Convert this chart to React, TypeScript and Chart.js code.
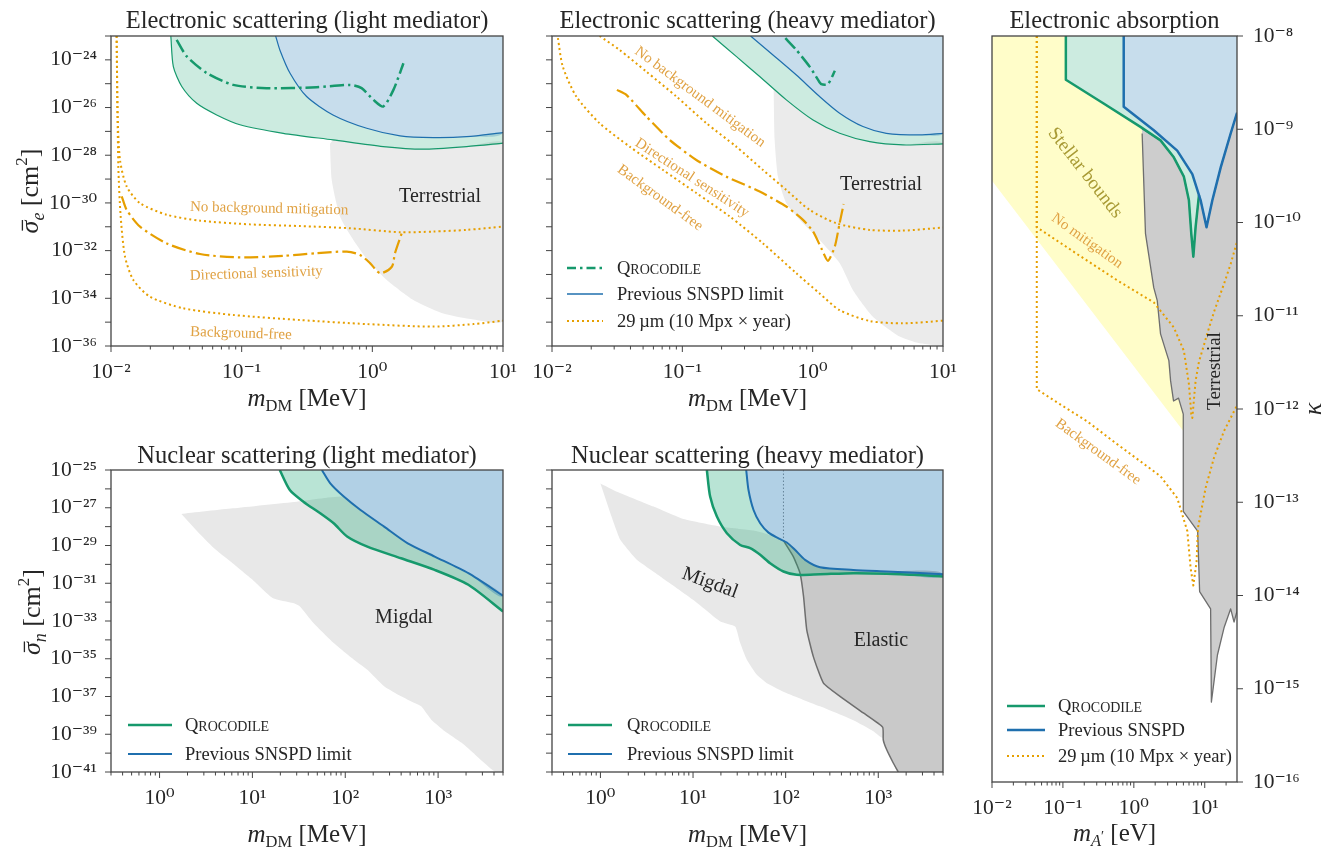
import React, { useEffect, useRef } from 'react';
import { Chart, registerables } from 'chart.js';

Chart.register(...registerables);

type Pt = [number, number];

// ---------------- tick values & labels ----------------
const eXTickValues = [0.01, 0.1, 1, 10];
const eXTickLabels = ['10⁻²', '10⁻¹', '10⁰', '10¹'];
const eYTickValues = [1e-36, 1e-34, 1e-32, 1e-30, 1e-28, 1e-26, 1e-24];
const eYTickLabels = ['10⁻³⁶', '10⁻³⁴', '10⁻³²', '10⁻³⁰', '10⁻²⁸', '10⁻²⁶', '10⁻²⁴'];
const eYMinorValues = [1e-35, 1e-33, 1e-31, 1e-29, 1e-27, 1e-25, 1e-23];
const nXTickValues = [1, 10, 100, 1000];
const nXTickLabels = ['10⁰', '10¹', '10²', '10³'];
const nYTickValues = [1e-41, 1e-39, 1e-37, 1e-35, 1e-33, 1e-31, 1e-29, 1e-27, 1e-25];
const nYTickLabels = ['10⁻⁴¹', '10⁻³⁹', '10⁻³⁷', '10⁻³⁵', '10⁻³³', '10⁻³¹', '10⁻²⁹', '10⁻²⁷', '10⁻²⁵'];
const nYMinorValues = [1e-40, 1e-38, 1e-36, 1e-34, 1e-32, 1e-30, 1e-28, 1e-26];
const aXTickValues = [0.01, 0.1, 1, 10];
const aXTickLabels = ['10⁻²', '10⁻¹', '10⁰', '10¹'];
const aYTickValues = [1e-16, 1e-15, 1e-14, 1e-13, 1e-12, 1e-11, 1e-10, 1e-9, 1e-8];
const aYTickLabels = ['10⁻¹⁶', '10⁻¹⁵', '10⁻¹⁴', '10⁻¹³', '10⁻¹²', '10⁻¹¹', '10⁻¹⁰', '10⁻⁹', '10⁻⁸'];

// ---------------- Electronic scattering (light mediator) ----------------
const elLightQroc: Pt[] = [[0.0287, 1e-23], [0.030, 5.2e-25], [0.0348, 7.6e-26], [0.0453, 1.5e-26], [0.0644, 4.9e-27], [0.097, 1.9e-27], [0.208, 8.3e-28], [0.5, 4.4e-28], [1.21, 2.3e-28], [2.45, 1.8e-28], [5.27, 2.3e-28], [10, 3.2e-28]];
const elLightSnspd: Pt[] = [[0.182, 1e-23], [0.196, 2.6e-24], [0.234, 2.8e-25], [0.314, 2.9e-26], [0.5, 4.9e-27], [0.906, 1.35e-27], [1.63, 6.5e-28], [2.93, 5.5e-28], [5.27, 6.0e-28], [10, 8.9e-28]];
const elLightQrocProj: Pt[] = [[0.0318, 6.9e-24], [0.038, 1.4e-24], [0.054, 2.8e-25], [0.0863, 8.9e-26], [0.155, 6.5e-26], [0.375, 7.1e-26], [0.674, 8.9e-26], [0.828, 6.5e-26], [1.02, 2.1e-26], [1.21, 1.1e-26], [1.45, 5.5e-26], [1.73, 7.2e-25]];
const elLightNoBkg: Pt[] = [[0.01104, 1e-23], [0.01125, 4.2e-27], [0.01172, 6.3e-29], [0.01318, 4.9e-30], [0.01667, 9.8e-31], [0.0267, 3.2e-31], [0.048, 1.8e-31], [0.1159, 1.26e-31], [0.279, 1.07e-31], [0.674, 8.7e-32], [1.63, 5.9e-32], [2.93, 6.3e-32], [5.27, 7.4e-32], [10, 1.02e-31]];
const elLightBkgFree: Pt[] = [[0.01104, 1e-23], [0.01138, 3.3e-29], [0.01186, 2.7e-31], [0.0128, 5.6e-33], [0.01482, 5.9e-34], [0.01987, 1.17e-34], [0.0358, 3.8e-35], [0.0863, 2.0e-35], [0.279, 1.23e-35], [0.906, 8.3e-36], [2.93, 6.5e-36], [5.93, 8.3e-36], [10, 1.15e-35]];
const elLightDirectional: Pt[] = [[0.01208, 1.9e-30], [0.01318, 5.1e-31], [0.01667, 1.02e-31], [0.0267, 2.0e-32], [0.048, 7.2e-33], [0.097, 5.2e-33], [0.208, 6.0e-33], [0.375, 7.8e-33], [0.637, 9.1e-33], [0.805, 6.6e-33], [0.96, 3.0e-33], [1.146, 1.12e-33], [1.41, 2.1e-33], [1.49, 7.8e-33], [1.68, 5.4e-32]];
const elLightTerrestrial: Pt[] = [[0.474, 3.0e-28], [0.489, 9.1e-30], [0.566, 2.7e-31], [0.716, 2.8e-32], [0.96, 3.0e-33], [1.29, 5.9e-34], [2.06, 8.5e-35], [3.49, 2.3e-35], [5.93, 1.3e-35], [10, 1.15e-35], [10, 3.2e-28], [5.27, 2.3e-28], [2.45, 1.8e-28], [1.21, 2.3e-28], [0.5, 4.4e-28]];

// ---------------- Electronic scattering (heavy mediator) ----------------
const elHeavyQroc: Pt[] = [[0.17, 1e-23], [0.259, 1.4e-24], [0.392, 2.0e-25], [0.628, 2.1e-26], [1.007, 3.0e-27], [1.61, 8.3e-28], [2.74, 3.7e-28], [4.93, 2.7e-28], [10, 3.0e-28]];
const elHeavySnspd: Pt[] = [[0.334, 1e-23], [0.496, 1.6e-24], [0.75, 2.3e-25], [1.13, 2.9e-26], [1.61, 5.8e-27], [2.43, 1.6e-27], [3.67, 8.3e-28], [6.62, 7.1e-28], [10, 8.3e-28]];
const elHeavyQrocProj: Pt[] = [[0.617, 8.1e-24], [0.75, 2.6e-24], [0.948, 5.2e-25], [1.10, 1.45e-25], [1.165, 9.5e-26], [1.31, 9.5e-26], [1.48, 3.5e-25]];
const elHeavyNoBkg: Pt[] = [[0.0232, 1e-23], [0.033, 2.6e-24], [0.053, 3.2e-25], [0.09, 2.9e-26], [0.153, 2.2e-27], [0.259, 2.3e-28], [0.416, 2.4e-29], [0.628, 3.5e-30], [0.948, 5.1e-31], [1.52, 1.4e-31], [2.74, 7.4e-32], [4.93, 6.9e-32], [10, 9.3e-32]];
const elHeavyBkgFree: Pt[] = [[0.0111, 8.1e-24], [0.0121, 5.2e-25], [0.01537, 2.9e-26], [0.0232, 2.2e-27], [0.0394, 2.3e-28], [0.0711, 2.4e-29], [0.128, 2.6e-30], [0.231, 2.7e-31], [0.416, 2.0e-32], [0.75, 1.12e-33], [1.13, 1.6e-34], [1.61, 3.2e-35], [2.74, 1.12e-35], [4.93, 8.9e-36], [10, 1.15e-35]];
const elHeavyDirectional: Pt[] = [[0.0315, 5.5e-26], [0.0372, 3.4e-26], [0.053, 4.2e-27], [0.08, 4.4e-28], [0.128, 6.3e-29], [0.218, 1.26e-29], [0.392, 3.0e-30], [0.628, 7.1e-31], [0.843, 1.95e-31], [1.007, 6.3e-32], [1.165, 1.26e-32], [1.31, 3.7e-33], [1.48, 1.5e-32], [1.61, 1.4e-31], [1.73, 9.1e-31]];
const elHeavyTerrestrial: Pt[] = [[0.502, 5.9e-26], [0.511, 4.4e-28], [0.542, 1.26e-29], [0.628, 9.8e-31], [0.843, 1.4e-31], [1.13, 2.8e-32], [1.61, 3.0e-33], [2.04, 2.2e-34], [2.9, 1.7e-35], [4.65, 2.5e-36], [6.62, 1.3e-36], [10, 1e-36], [10, 3.0e-28], [4.93, 2.7e-28], [2.74, 3.7e-28], [1.61, 8.3e-28], [1.007, 3.0e-27], [0.628, 2.1e-26]];

// ---------------- Electronic absorption ----------------
const absQroc: Pt[] = [[0.11, 1e-8], [0.11, 3.4e-9], [0.375, 1.89e-9], [1.24, 1.06e-9], [2.38, 7.6e-10], [3.66, 5.0e-10], [5.08, 3.1e-10], [5.98, 1.73e-10], [6.46, 7.6e-11], [6.9, 4.3e-11], [7.43, 8.9e-11], [8.3, 1.98e-10]];
const absSnspd: Pt[] = [[0.72, 1e-8], [0.72, 1.74e-9], [1.91, 9.75e-10], [4.09, 5.9e-10], [6.68, 3.3e-10], [8.75, 1.73e-10], [10.6, 8.9e-11], [12.8, 1.73e-10], [16.8, 3.9e-10], [23.2, 9.0e-10], [28.5, 1.5e-9]];
const absNoMit: Pt[] = [[0.0428, 1e-8], [0.0428, 8.9e-11], [0.158, 4.6e-11], [0.581, 2.4e-11], [1.91, 1.39e-11], [3.66, 7.5e-12], [5.08, 4.2e-12], [5.98, 1.85e-12], [6.46, 8.8e-13], [6.68, 8.0e-13], [7.43, 2.0e-12], [8.28, 3.2e-12], [10.9, 6.5e-12], [13.5, 1.1e-11], [18.7, 2.2e-11], [23.2, 3.6e-11], [28.5, 6.2e-11]];
const absBkgFree: Pt[] = [[0.0428, 1e-8], [0.0428, 1.63e-12], [0.0916, 1.12e-12], [0.218, 7.4e-13], [0.581, 4.2e-13], [2.38, 1.9e-13], [4.09, 1.11e-13], [4.82, 7.4e-14], [5.68, 4.9e-14], [6.32, 1.97e-14], [6.9, 1.28e-14], [7.67, 2.3e-14], [8.02, 5.3e-14], [10.3, 1.43e-13], [13.5, 3.0e-13], [18.7, 5.8e-13], [27.4, 1.03e-12], [28.5, 1.08e-12]];
const absTerrestrial: Pt[] = [[1.3, 1.02e-9], [2.38, 7.6e-10], [3.66, 5.0e-10], [5.08, 3.1e-10], [5.98, 1.73e-10], [6.46, 7.6e-11], [6.9, 4.3e-11], [7.43, 8.9e-11], [8.3, 1.98e-10], [8.75, 1.73e-10], [10.6, 8.9e-11], [12.8, 1.73e-10], [16.8, 3.9e-10], [23.2, 9.0e-10], [28.5, 1.5e-9], [28.5, 6.8e-15], [25.9, 5.2e-15], [23.2, 7.2e-15], [18.7, 4.5e-15], [15.1, 2.3e-15], [12.4, 7.2e-16], [12.1, 7.2e-15], [8.47, 1.1e-14], [7.94, 4.9e-14], [4.98, 8.0e-14], [4.98, 8.8e-13], [4.27, 1.31e-12], [3.63, 1.22e-12], [3.3, 2.0e-12], [3.12, 3.3e-12], [2.38, 6.4e-12], [2.14, 1.45e-11], [1.91, 2.0e-11], [1.46, 7.6e-11], [1.31, 9.0e-10]];
const absStellar: Pt[] = [[0.01, 1e-8], [0.11, 1e-8], [0.11, 3.4e-9], [0.375, 1.89e-9], [1.24, 1.06e-9], [1.3, 1.02e-9], [1.31, 9.0e-10], [1.46, 7.6e-11], [1.91, 2.0e-11], [2.14, 1.45e-11], [2.38, 6.4e-12], [3.12, 3.3e-12], [3.3, 2.0e-12], [3.63, 1.22e-12], [4.27, 1.31e-12], [4.98, 8.8e-13], [4.98, 5.8e-13], [0.01, 2.8e-10]];

// ---------------- Nuclear scattering (light mediator) ----------------
const nuLightQroc: Pt[] = [[19.7, 1e-25], [25.3, 8.7e-27], [35.4, 2.1e-27], [53.7, 5.1e-28], [75, 1.5e-28], [104.7, 3.0e-29], [173, 8.7e-30], [399, 2.1e-30], [918, 5.1e-31], [2118, 8.3e-32], [5000, 3.2e-33]];
const nuLightSnspd: Pt[] = [[56, 1e-25], [69, 1.95e-26], [96.4, 3.9e-27], [146, 7.6e-28], [262, 1e-28], [471, 1.3e-29], [918, 2.6e-30], [2118, 3.4e-31], [5000, 2.2e-32]];
const nuLightMigdal: Pt[] = [[1.72, 4.7e-28], [6.12, 9.3e-28], [29.9, 2.1e-27], [96.4, 3.9e-27], [146, 7.6e-28], [262, 1e-28], [471, 1.3e-29], [918, 2.6e-30], [2118, 3.4e-31], [5000, 2.2e-32], [5000, 6.3e-42], [3802, 1.35e-41], [2506, 8.3e-41], [1795, 3.5e-40], [1181, 1.45e-39], [845, 5.9e-39], [658, 3.0e-38], [557, 4.5e-38], [399, 1.02e-37], [262, 3.5e-37], [173, 2.6e-36], [124, 8.9e-36], [75, 6.8e-35], [45.5, 7.8e-34], [32.5, 5.9e-33], [27.5, 8.9e-33], [16.7, 1.6e-32], [10.1, 1.5e-31], [6.12, 1.15e-30], [4.04, 5.9e-30], [2.66, 4.5e-29]];

// ---------------- Nuclear scattering (heavy mediator) ----------------
const nuHeavyQroc: Pt[] = [[14.1, 1e-25], [15.3, 3.9e-27], [18.1, 3.4e-28], [23.2, 4.5e-29], [32.3, 1.07e-29], [41.4, 7.2e-30], [53.1, 3.2e-30], [68, 1.15e-30], [94.7, 4.2e-31], [132, 2.8e-31], [235, 3.0e-31], [538, 3.4e-31], [1231, 3.2e-31], [2817, 2.7e-31], [5000, 2.3e-31]];
const nuHeavySnspd: Pt[] = [[37.5, 1e-25], [39.7, 8.7e-27], [45, 7.6e-28], [53.1, 1.5e-28], [65.3, 4.8e-29], [83.6, 2.4e-29], [103, 1.45e-29], [126, 5.9e-30], [162, 1.74e-30], [235, 7.1e-31], [538, 5.1e-31], [1231, 4.2e-31], [5000, 3.0e-31]];
const nuHeavyMigdal: Pt[] = [[1.0, 1.95e-26], [1.51, 7.1e-27], [3.76, 1.15e-27], [7.91, 2.5e-28], [19.7, 1e-28], [45, 6.2e-29], [94.7, 1.8e-29], [538, 1e-34], [3000, 1e-38], [1132, 6.3e-40], [884, 1.45e-39], [538, 5.5e-39], [235, 3.0e-38], [103, 1.5e-37], [62.6, 5.1e-37], [48.9, 1.4e-36], [38.1, 8.9e-36], [32.3, 6.8e-35], [28.5, 5.1e-34], [19.7, 9.5e-34], [10.1, 1.3e-32], [4.43, 2.3e-31], [2.48, 1.74e-30], [1.64, 2.0e-29], [1.28, 5.1e-28]];
const nuHeavyElasticEdge: Pt[] = [[94.7, 1.8e-29], [121, 2.6e-30], [143, 3.4e-31], [156, 2.0e-32], [169, 3.4e-34], [199, 1.3e-35], [256, 5.1e-37], [386, 1.02e-37], [690, 1.35e-38], [1114, 2.4e-39], [1132, 5.1e-40], [1231, 1.55e-40], [1452, 3.0e-41], [1644, 1e-41]];
const nuHeavyDivider: Pt[] = [[94.7, 1e-25], [94.7, 1.8e-29]];

// ---------------- styles ----------------
const FONT = '"Liberation Serif", "DejaVu Serif", serif';
const TEXT = '#262626';
const AXIS = '#444444';
const ORANGE = '#E69F00';
const ORANGE_TXT = '#E0A244';
const OLIVE = '#a89a34';
const GREEN = '#16996c';
const BLUE = '#1f6fae';
const GREEN_FILL_T = 'rgba(23,166,115,0.22)';
const BLUE_FILL_T = 'rgba(31,119,180,0.25)';
const GREEN_FILL_B = 'rgba(23,166,115,0.30)';
const BLUE_FILL_B = 'rgba(31,119,180,0.35)';
const GRAY_TERR = '#ebebeb';
const GRAY_TERR_ABS = '#cdcdcd';
const GRAY_MIGDAL = '#e8e8e8';
const GRAY_ELASTIC = '#c9c9c9';
const EDGE = '#6e6e6e';
const YELLOW = '#fffdc9';
const DOT = [2, 3];
const DASHDOT = [14, 4, 2.5, 4];

type Seg = { t: string; size: number; italic?: boolean; dy?: number; bar?: boolean };
type TextItem = { x: number; y: number; segs: Seg[]; align?: 'left' | 'center' | 'right'; rot?: number; color?: string; middle?: boolean };
type Layer = { pts: Pt[]; fill?: string; line?: string; width?: number; dash?: number[]; tension?: number };
type LegendItem = { y: number; color: string; width: number; dash: number[]; segs: Seg[] };
type Spec = {
  xRange: [number, number]; yRange: [number, number]; yPos: 'left' | 'right';
  pad: { left: number; top: number; right: number }; yWidth: number; xHeight: number; yPad: number;
  xTicks: number[]; xLabels: string[] | null; xMinor: number[];
  yTicks: number[]; yLabels: string[] | null; yMinor: number[];
  layers: Layer[]; texts: TextItem[];
  legend: { x0: number; x1: number; tx: number; items: LegendItem[] } | null;
};

const rev = (a: Pt[]) => [...a].reverse();
function logMinors(lo: number, hi: number): number[] {
  const out: number[] = [];
  for (let e = Math.floor(Math.log10(lo)); e <= Math.ceil(Math.log10(hi)); e++) {
    for (let k = 2; k <= 9; k++) {
      const v = k * Math.pow(10, e);
      if (v >= lo * 0.999 && v <= hi * 1.001) out.push(v);
    }
  }
  return out;
}

const xTitleMeV: Seg[] = [{ t: 'm', size: 25, italic: true }, { t: 'DM', size: 16.5, dy: 5 }, { t: ' [MeV]', size: 25 }];
const yTitleE: Seg[] = [{ t: 'σ', size: 26, italic: true, bar: true }, { t: 'e', size: 18, italic: true, dy: 6 }, { t: ' [cm', size: 26 }, { t: '2', size: 17, dy: -11 }, { t: ']', size: 26 }];
const yTitleN: Seg[] = [{ t: 'σ', size: 26, italic: true, bar: true }, { t: 'n', size: 18, italic: true, dy: 6 }, { t: ' [cm', size: 26 }, { t: '2', size: 17, dy: -11 }, { t: ']', size: 26 }];
const qroc: Seg[] = [{ t: 'Q', size: 18.5 }, { t: 'ROCODILE', size: 14 }];
const LEG = 18.5;
const TITLE = 24.5;

const spec1: Spec = {
  xRange: [0.01, 10], yRange: [1e-36, 1e-23], yPos: 'left', pad: { left: 0, top: 36, right: 17 }, yWidth: 111, xHeight: 74, yPad: 14,
  xTicks: eXTickValues, xLabels: eXTickLabels, xMinor: logMinors(0.01, 10),
  yTicks: eYTickValues, yLabels: eYTickLabels, yMinor: eYMinorValues,
  layers: [
    { pts: elLightTerrestrial, fill: GRAY_TERR, tension: 0.2 },
    { pts: [...elLightQroc, ...rev(elLightSnspd)], fill: GREEN_FILL_T, tension: 0.25 },
    { pts: [...elLightSnspd, [10, 1e-23]], fill: BLUE_FILL_T, tension: 0.25 },
    { pts: elLightQroc, line: GREEN, width: 1.2, tension: 0.25 },
    { pts: elLightSnspd, line: BLUE, width: 1.2, tension: 0.25 },
    { pts: elLightNoBkg, line: ORANGE, width: 2, dash: DOT, tension: 0.25 },
    { pts: elLightBkgFree, line: ORANGE, width: 2, dash: DOT, tension: 0.25 },
    { pts: elLightDirectional, line: ORANGE, width: 2.2, dash: DASHDOT, tension: 0.25 },
    { pts: elLightQrocProj, line: GREEN, width: 2.5, dash: DASHDOT, tension: 0.25 },
  ],
  texts: [
    { x: 307, y: 28, align: 'center', segs: [{ t: 'Electronic scattering (light mediator)', size: TITLE }] },
    { x: 307, y: 406, align: 'center', segs: xTitleMeV },
    { x: 38, y: 191, rot: -90, align: 'center', segs: yTitleE },
    { x: 440, y: 202, align: 'center', segs: [{ t: 'Terrestrial', size: 20 }] },
    { x: 190, y: 211, rot: 1.2, color: ORANGE_TXT, segs: [{ t: 'No background mitigation', size: 15 }] },
    { x: 190, y: 280, rot: -2, color: ORANGE_TXT, segs: [{ t: 'Directional sensitivity', size: 15 }] },
    { x: 190, y: 336, rot: 1.8, color: ORANGE_TXT, segs: [{ t: 'Background-free', size: 15 }] },
  ],
  legend: null,
};

const spec2: Spec = {
  xRange: [0.01, 10], yRange: [1e-36, 1e-23], yPos: 'left', pad: { left: 0, top: 36, right: 17 }, yWidth: 32, xHeight: 74, yPad: 14,
  xTicks: eXTickValues, xLabels: eXTickLabels, xMinor: logMinors(0.01, 10),
  yTicks: eYTickValues, yLabels: null, yMinor: eYMinorValues,
  layers: [
    { pts: elHeavyTerrestrial, fill: GRAY_TERR, tension: 0.2 },
    { pts: [...elHeavyQroc, ...rev(elHeavySnspd)], fill: GREEN_FILL_T, tension: 0.25 },
    { pts: [...elHeavySnspd, [10, 1e-23]], fill: BLUE_FILL_T, tension: 0.25 },
    { pts: elHeavyQroc, line: GREEN, width: 1.2, tension: 0.25 },
    { pts: elHeavySnspd, line: BLUE, width: 1.2, tension: 0.25 },
    { pts: elHeavyNoBkg, line: ORANGE, width: 2, dash: DOT, tension: 0.25 },
    { pts: elHeavyBkgFree, line: ORANGE, width: 2, dash: DOT, tension: 0.25 },
    { pts: elHeavyDirectional, line: ORANGE, width: 2.2, dash: DASHDOT, tension: 0.2 },
    { pts: elHeavyQrocProj, line: GREEN, width: 2.5, dash: DASHDOT, tension: 0.2 },
  ],
  texts: [
    { x: 227.5, y: 28, align: 'center', segs: [{ t: 'Electronic scattering (heavy mediator)', size: TITLE }] },
    { x: 227.5, y: 406, align: 'center', segs: xTitleMeV },
    { x: 361, y: 190, align: 'center', segs: [{ t: 'Terrestrial', size: 20 }] },
    { x: 180, y: 97, rot: 36.6, align: 'center', middle: true, color: ORANGE_TXT, segs: [{ t: 'No background mitigation', size: 15 }] },
    { x: 172, y: 178, rot: 33, align: 'center', middle: true, color: ORANGE_TXT, segs: [{ t: 'Directional sensitivity', size: 15 }] },
    { x: 140, y: 198, rot: 36, align: 'center', middle: true, color: ORANGE_TXT, segs: [{ t: 'Background-free', size: 15 }] },
  ],
  legend: {
    x0: 47, x1: 83, tx: 97, items: [
      { y: 268, color: GREEN, width: 2.5, dash: [9, 4, 2.5, 4], segs: qroc },
      { y: 294, color: BLUE, width: 1.5, dash: [], segs: [{ t: 'Previous SNSPD limit', size: LEG }] },
      { y: 321, color: ORANGE, width: 2, dash: DOT, segs: [{ t: '29\u2009µm (10 Mpx × year)', size: LEG }] },
    ],
  },
};

const spec3: Spec = {
  xRange: [0.01, 28.5], yRange: [1e-16, 1e-8], yPos: 'right', pad: { left: 32, top: 36, right: 0 }, yWidth: 87, xHeight: 65, yPad: 16,
  xTicks: aXTickValues, xLabels: aXTickLabels, xMinor: logMinors(0.01, 28.5),
  yTicks: aYTickValues, yLabels: aYTickLabels, yMinor: [],
  layers: [
    { pts: absStellar, fill: YELLOW },
    { pts: absTerrestrial, fill: GRAY_TERR_ABS, line: EDGE, width: 1.3 },
    { pts: [...absQroc, ...rev(absSnspd.filter((p) => p[0] < 8.3))], fill: GREEN_FILL_T },
    { pts: [...absSnspd, [28.5, 1e-8]], fill: BLUE_FILL_T },
    { pts: absNoMit, line: ORANGE, width: 2, dash: DOT },
    { pts: absBkgFree, line: ORANGE, width: 2, dash: DOT },
    { pts: absQroc, line: GREEN, width: 2.5 },
    { pts: absSnspd, line: BLUE, width: 2.5 },
  ],
  texts: [
    { x: 154.5, y: 28, align: 'center', segs: [{ t: 'Electronic absorption', size: TITLE }] },
    { x: 154.5, y: 841, align: 'center', segs: [{ t: 'm', size: 25, italic: true }, { t: 'A', size: 16.5, italic: true, dy: 5 }, { t: '′', size: 14, dy: 0 }, { t: ' [eV]', size: 25 }] },
    { x: 361, y: 409, rot: -90, align: 'center', segs: [{ t: 'κ', size: 26, italic: true }] },
    { x: 125, y: 173, rot: 52, align: 'center', middle: true, color: OLIVE, segs: [{ t: 'Stellar bounds', size: 19 }] },
    { x: 127, y: 241, rot: 35.6, align: 'center', middle: true, color: ORANGE_TXT, segs: [{ t: 'No mitigation', size: 15 }] },
    { x: 138, y: 452, rot: 36, align: 'center', middle: true, color: ORANGE_TXT, segs: [{ t: 'Background-free', size: 15 }] },
    { x: 255, y: 371, rot: -90, align: 'center', middle: true, segs: [{ t: 'Terrestrial', size: 19 }] },
  ],
  legend: {
    x0: 47, x1: 85, tx: 98, items: [
      { y: 706, color: GREEN, width: 2.5, dash: [], segs: qroc },
      { y: 730, color: BLUE, width: 2.5, dash: [], segs: [{ t: 'Previous SNSPD', size: LEG }] },
      { y: 756, color: ORANGE, width: 2, dash: DOT, segs: [{ t: '29\u2009µm (10 Mpx × year)', size: LEG }] },
    ],
  },
};

const spec4: Spec = {
  xRange: [0.3, 5000], yRange: [1e-41, 1e-25], yPos: 'left', pad: { left: 0, top: 50, right: 17 }, yWidth: 111, xHeight: 75, yPad: 14,
  xTicks: nXTickValues, xLabels: nXTickLabels, xMinor: logMinors(0.3, 5000),
  yTicks: nYTickValues, yLabels: nYTickLabels, yMinor: nYMinorValues,
  layers: [
    { pts: nuLightMigdal, fill: GRAY_MIGDAL, tension: 0.15 },
    { pts: [...nuLightQroc, ...rev(nuLightSnspd)], fill: GREEN_FILL_B, tension: 0.25 },
    { pts: [...nuLightSnspd, [5000, 1e-25]], fill: BLUE_FILL_B, tension: 0.25 },
    { pts: nuLightQroc, line: GREEN, width: 2.5, tension: 0.25 },
    { pts: nuLightSnspd, line: BLUE, width: 2, tension: 0.25 },
  ],
  texts: [
    { x: 307, y: 43, align: 'center', segs: [{ t: 'Nuclear scattering (light mediator)', size: TITLE }] },
    { x: 307, y: 422, align: 'center', segs: xTitleMeV },
    { x: 40, y: 192, rot: -90, align: 'center', segs: yTitleN },
    { x: 404, y: 203, align: 'center', segs: [{ t: 'Migdal', size: 20 }] },
  ],
  legend: {
    x0: 128, x1: 172, tx: 185, items: [
      { y: 305, color: GREEN, width: 2.5, dash: [], segs: qroc },
      { y: 334, color: BLUE, width: 2, dash: [], segs: [{ t: 'Previous SNSPD limit', size: LEG }] },
    ],
  },
};

const spec5: Spec = {
  xRange: [0.3, 5000], yRange: [1e-41, 1e-25], yPos: 'left', pad: { left: 0, top: 50, right: 17 }, yWidth: 32, xHeight: 75, yPad: 14,
  xTicks: nXTickValues, xLabels: nXTickLabels, xMinor: logMinors(0.3, 5000),
  yTicks: nYTickValues, yLabels: null, yMinor: nYMinorValues,
  layers: [
    { pts: nuHeavyMigdal, fill: GRAY_MIGDAL, tension: 0.15 },
    { pts: [nuHeavyElasticEdge[0], ...nuHeavySnspd.filter((p) => p[0] > 94.7), [5000, 1e-41], ...rev(nuHeavyElasticEdge)], fill: GRAY_ELASTIC, tension: 0.15 },
    { pts: nuHeavyElasticEdge, line: EDGE, width: 1.5, tension: 0.15 },
    { pts: nuHeavyDivider, line: '#8a8a8a', width: 1, dash: [1.5, 2] },
    { pts: [...nuHeavyQroc, ...rev(nuHeavySnspd)], fill: GREEN_FILL_B, tension: 0.25 },
    { pts: [...nuHeavySnspd, [5000, 1e-25]], fill: BLUE_FILL_B, tension: 0.25 },
    { pts: nuHeavyQroc, line: GREEN, width: 2.5, tension: 0.25 },
    { pts: nuHeavySnspd, line: BLUE, width: 2, tension: 0.25 },
  ],
  texts: [
    { x: 227.5, y: 43, align: 'center', segs: [{ t: 'Nuclear scattering (heavy mediator)', size: TITLE }] },
    { x: 227.5, y: 422, align: 'center', segs: xTitleMeV },
    { x: 190, y: 163, rot: 20, align: 'center', middle: true, segs: [{ t: 'Migdal', size: 20 }] },
    { x: 361, y: 226, align: 'center', segs: [{ t: 'Elastic', size: 20 }] },
  ],
  legend: {
    x0: 48, x1: 92, tx: 107, items: [
      { y: 305, color: GREEN, width: 2.5, dash: [], segs: qroc },
      { y: 334, color: BLUE, width: 2, dash: [], segs: [{ t: 'Previous SNSPD limit', size: LEG }] },
    ],
  },
};

function drawRich(ctx: CanvasRenderingContext2D, t: TextItem) {
  ctx.save();
  ctx.translate(t.x, t.y);
  if (t.rot) ctx.rotate((t.rot * Math.PI) / 180);
  const col = t.color || TEXT;
  ctx.fillStyle = col;
  ctx.strokeStyle = col;
  ctx.textAlign = 'left';
  ctx.textBaseline = t.middle ? 'middle' : 'alphabetic';
  const font = (g: Seg) => `${g.italic ? 'italic ' : ''}${g.size}px ${FONT}`;
  let w = 0;
  for (const g of t.segs) { ctx.font = font(g); w += ctx.measureText(g.t).width; }
  let x = t.align === 'center' ? -w / 2 : t.align === 'right' ? -w : 0;
  for (const g of t.segs) {
    ctx.font = font(g);
    const gw = ctx.measureText(g.t).width;
    ctx.fillText(g.t, x, g.dy || 0);
    if (g.bar) {
      ctx.lineWidth = 1.3;
      const by = (g.dy || 0) - g.size * 0.6;
      ctx.beginPath();
      ctx.moveTo(x + gw * 0.22, by);
      ctx.lineTo(x + gw * 1.05, by);
      ctx.stroke();
    }
    x += gw;
  }
  ctx.restore();
}

function overlay(s: Spec) {
  return {
    id: 'overlay',
    afterDraw(chart: any) {
      const ctx: CanvasRenderingContext2D = chart.ctx;
      const a = chart.chartArea;
      const xs = chart.scales.x;
      const ys = chart.scales.y;
      ctx.save();
      ctx.strokeStyle = AXIS;
      ctx.lineWidth = 1;
      const tickSet = (vals: number[], len: number, axis: 'x' | 'y') => {
        ctx.beginPath();
        for (const v of vals) {
          if (axis === 'x') {
            const px = xs.getPixelForValue(v);
            if (px < a.left - 0.5 || px > a.right + 0.5) continue;
            ctx.moveTo(px, a.bottom);
            ctx.lineTo(px, a.bottom + len);
          } else {
            const py = ys.getPixelForValue(v);
            if (py < a.top - 0.5 || py > a.bottom + 0.5) continue;
            const x0 = s.yPos === 'left' ? a.left : a.right;
            const dir = s.yPos === 'left' ? -1 : 1;
            ctx.moveTo(x0, py);
            ctx.lineTo(x0 + dir * len, py);
          }
        }
        ctx.stroke();
      };
      tickSet(s.xTicks, 6, 'x');
      tickSet(s.xMinor, 3.5, 'x');
      tickSet(s.yTicks, 6, 'y');
      tickSet(s.yMinor, 6, 'y');
      ctx.lineWidth = 1.3;
      ctx.strokeRect(a.left, a.top, a.right - a.left, a.bottom - a.top);
      for (const t of s.texts) drawRich(ctx, t);
      if (s.legend) {
        const L = s.legend;
        for (const it of L.items) {
          ctx.save();
          ctx.strokeStyle = it.color;
          ctx.lineWidth = it.width;
          ctx.setLineDash(it.dash);
          ctx.beginPath();
          ctx.moveTo(L.x0, it.y);
          ctx.lineTo(L.x1, it.y);
          ctx.stroke();
          ctx.restore();
          drawRich(ctx, { x: L.tx, y: it.y + 6, segs: it.segs });
        }
      }
      ctx.restore();
    },
  };
}

function makeChart(canvas: HTMLCanvasElement, s: Spec) {
  const n = s.layers.length;
  const datasets = s.layers.map((L, i) => ({
    data: L.pts.map(([x, y]) => ({ x, y })),
    fill: L.fill ? 'shape' : false,
    backgroundColor: L.fill || 'rgba(0,0,0,0)',
    borderColor: L.line || 'rgba(0,0,0,0)',
    borderWidth: L.line ? L.width ?? 1.5 : 0,
    borderDash: L.dash || [],
    borderCapStyle: 'butt',
    borderJoinStyle: 'round',
    tension: L.tension ?? 0,
    pointRadius: 0,
    pointHoverRadius: 0,
    pointHitRadius: 0,
    order: n - i,
  }));
  const tickFont = { family: FONT, size: 21.5 };
  const labelOf = (vals: number[], labels: string[] | null) => (v: any) => {
    if (!labels) return '';
    const i = vals.indexOf(Number(v));
    return i >= 0 ? labels[i] : '';
  };
  return new Chart(canvas, {
    type: 'line',
    data: { datasets } as any,
    options: {
      animation: false,
      responsive: false,
      maintainAspectRatio: false,
      events: [],
      layout: { padding: { left: s.pad.left, top: s.pad.top, right: s.pad.right, bottom: 0 } },
      plugins: { legend: { display: false }, tooltip: { enabled: false }, title: { display: false } },
      scales: {
        x: {
          type: 'logarithmic', min: s.xRange[0], max: s.xRange[1], bounds: 'data', position: 'bottom',
          grid: { display: false, drawTicks: false }, border: { display: false },
          ticks: { display: !!s.xLabels, autoSkip: false, maxRotation: 0, minRotation: 0, padding: 13, font: tickFont, color: TEXT, callback: labelOf(s.xTicks, s.xLabels) },
          afterBuildTicks: (ax: any) => { ax.ticks = s.xTicks.map((v) => ({ value: v })); },
          afterFit: (ax: any) => { ax.height = s.xHeight; ax.paddingLeft = 0; ax.paddingRight = 0; ax.paddingTop = 0; ax.paddingBottom = 0; },
        },
        y: {
          type: 'logarithmic', min: s.yRange[0], max: s.yRange[1], bounds: 'data', position: s.yPos,
          grid: { display: false, drawTicks: false }, border: { display: false },
          ticks: { display: !!s.yLabels, autoSkip: false, padding: s.yPad, font: tickFont, color: TEXT, callback: labelOf(s.yTicks, s.yLabels) },
          afterBuildTicks: (ax: any) => { ax.ticks = s.yTicks.map((v) => ({ value: v })); },
          afterFit: (ax: any) => { ax.width = s.yWidth; ax.paddingLeft = 0; ax.paddingRight = 0; ax.paddingTop = 0; ax.paddingBottom = 0; },
        },
      },
    } as any,
    plugins: [overlay(s)],
  });
}

const PANELS = [
  { left: 0, top: 0, w: 520, h: 420, spec: spec1 },
  { left: 520, top: 0, w: 440, h: 420, spec: spec2 },
  { left: 960, top: 0, w: 364, h: 847, spec: spec3 },
  { left: 0, top: 420, w: 520, h: 427, spec: spec4 },
  { left: 520, top: 420, w: 440, h: 427, spec: spec5 },
];

export default function App() {
  const refs = useRef<(HTMLCanvasElement | null)[]>([]);
  useEffect(() => {
    const charts = PANELS.map((p, i) => makeChart(refs.current[i] as HTMLCanvasElement, p.spec));
    return () => charts.forEach((c) => c.destroy());
  }, []);
  return (
    <div style={{ position: 'absolute', left: 0, top: 0, width: 1324, height: 847, background: '#ffffff', overflow: 'hidden' }}>
      {PANELS.map((p, i) => (
        <canvas
          key={i}
          ref={(el) => { refs.current[i] = el; }}
          width={p.w}
          height={p.h}
          style={{ position: 'absolute', left: p.left, top: p.top, width: p.w, height: p.h }}
        />
      ))}
    </div>
  );
}
